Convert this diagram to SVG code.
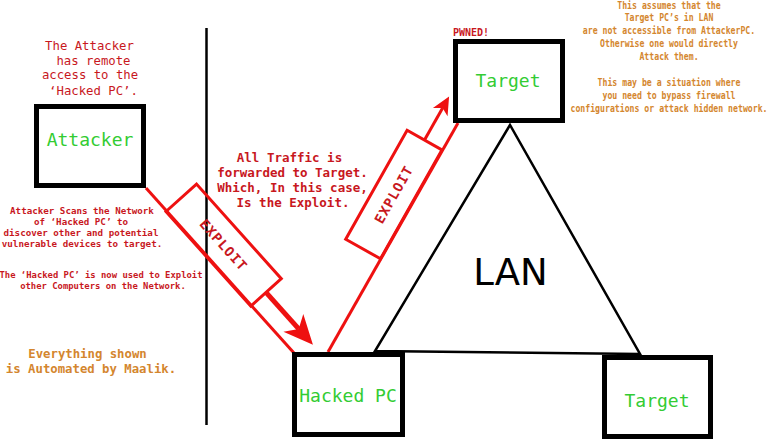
<svg xmlns="http://www.w3.org/2000/svg" width="768" height="440" viewBox="0 0 768 440">
<style>
.box{fill:#fff;stroke:#000;stroke-width:5}
.lbl{font-family:"DejaVu Sans Mono","Liberation Mono",monospace;font-size:18px;fill:#33cc33;text-anchor:middle}
.red{font-family:"DejaVu Sans Mono","Liberation Mono",monospace;fill:#c8181e;text-anchor:middle}
.org{font-family:"DejaVu Sans Mono","Liberation Mono",monospace;fill:#d4862e;text-anchor:middle;font-weight:bold}
.rl{fill:none;stroke:#ee1111;stroke-width:3}
.ex{font-family:"DejaVu Sans Mono","Liberation Mono",monospace;font-size:13.5px;font-weight:bold;fill:#c8181e;text-anchor:middle}
</style>
<defs>
<marker id="ah1" markerUnits="userSpaceOnUse" orient="auto" refX="0" refY="0" markerWidth="40" markerHeight="40" viewBox="-10 -15 30 30" overflow="visible">
<path d="M16,0 L-6,-10 L0,0 L-6,10 Z" fill="#ee1111"/>
</marker>
<marker id="ah2" markerUnits="userSpaceOnUse" orient="auto" refX="0" refY="0" markerWidth="30" markerHeight="30" viewBox="-10 -10 25 20" overflow="visible">
<path d="M11,0 L-4,-7 L0,0 L-4,7 Z" fill="#ee1111"/>
</marker>
</defs>
<rect width="768" height="440" fill="#fff"/>

<line x1="206.5" y1="28" x2="206.5" y2="425" stroke="#000" stroke-width="2.5"/>

<g id="lan">
<polygon points="510,125 375,351 640,354" fill="#fff" stroke="#000" stroke-width="2.5"/>
<text x="510.5" y="285" font-family="DejaVu Sans, sans-serif" font-size="37" text-anchor="middle" fill="#000">LAN</text>
</g>

<g id="connectors">
<line class="rl" x1="146" y1="188" x2="294" y2="353"/>
<polygon class="rl" points="166,211.5 196.5,184.1 281.3,278.7 250.8,306.1"/>
<text class="ex" transform="translate(223.6,245.1) rotate(48.1)" y="4.8" letter-spacing="1">EXPLOIT</text>
<line x1="266" y1="292.4" x2="298.7" y2="328.9" stroke="#ee1111" stroke-width="5" marker-end="url(#ah1)"/>

<line class="rl" x1="328" y1="352" x2="458" y2="123"/>
<polygon class="rl" points="380.5,258.8 441.9,149.9 407.1,130.3 345.7,239.2"/>
<text class="ex" transform="translate(393.8,194.5) rotate(-60.6)" y="4.8" letter-spacing="1">EXPLOIT</text>
<line x1="424.5" y1="140.1" x2="442.6" y2="108" stroke="#ee1111" stroke-width="3" marker-end="url(#ah2)"/>
</g>

<g id="attacker">
<rect class="box" x="36.5" y="106.5" width="107" height="79"/>
<text class="lbl" x="90" y="146">Attacker</text>
</g>
<g id="hacked">
<rect class="box" x="294.5" y="354.5" width="108" height="80"/>
<text class="lbl" x="348" y="402">Hacked PC</text>
</g>
<g id="target1">
<rect class="box" x="455.5" y="41.5" width="107" height="79"/>
<text class="lbl" x="508" y="87">Target</text>
<text x="453" y="36" font-family="DejaVu Sans Mono, monospace" font-size="10" font-weight="bold" fill="#c8181e">PWNED!</text>
</g>
<g id="target2">
<rect class="box" x="604.5" y="357.5" width="106" height="79"/>
<text class="lbl" x="657" y="407">Target</text>
</g>

<g id="notes">
<g class="red" font-size="12.3">
<text x="89.5" y="49.5">The Attacker</text>
<text x="93.5" y="64.5">has remote</text>
<text x="90" y="79">access to the</text>
<text x="93.5" y="94.5">‘Hacked PC’.</text>
</g>
<g class="red" font-size="12.5" font-weight="bold">
<text x="289.5" y="161.5">All Traffic is</text>
<text x="292.5" y="176.5">forwarded to Target.</text>
<text x="292.5" y="191.5">Which, In this case,</text>
<text x="293" y="206.5">Is the Exploit.</text>
</g>
<g class="red" font-size="9.2" font-weight="bold">
<text x="82" y="213.5">Attacker Scans the Network</text>
<text x="81" y="224.5">of ‘Hacked PC’ to</text>
<text x="81" y="235.5">discover other and potential</text>
<text x="82" y="246.5">vulnerable devices to target.</text>
</g>
<g class="red" font-size="8.9" font-weight="bold">
<text x="101" y="277.5">The ‘Hacked PC’ is now used to Exploit</text>
<text x="103" y="288.5">other Computers on the Network.</text>
</g>
<g class="org" font-size="12.3">
<text x="87.5" y="357.5">Everything shown</text>
<text x="91" y="372.5">is Automated by Maalik.</text>
</g>
<g class="org" font-size="10" font-weight="normal" transform="translate(669,0) scale(0.82,1)">
<text x="0" y="8.5">This assumes that the</text>
<text x="0" y="21.5">Target PC’s in LAN</text>
<text x="0" y="34.5">are not accessible from AttackerPC.</text>
<text x="0" y="47.5">Otherwise one would directly</text>
<text x="0" y="60.5">Attack them.</text>
<text x="0" y="86.5">This may be a situation where</text>
<text x="0" y="99.5">you need to bypass firewall</text>
<text x="0" y="112.5">configurations or attack hidden network.</text>
</g>
</g>
</svg>
